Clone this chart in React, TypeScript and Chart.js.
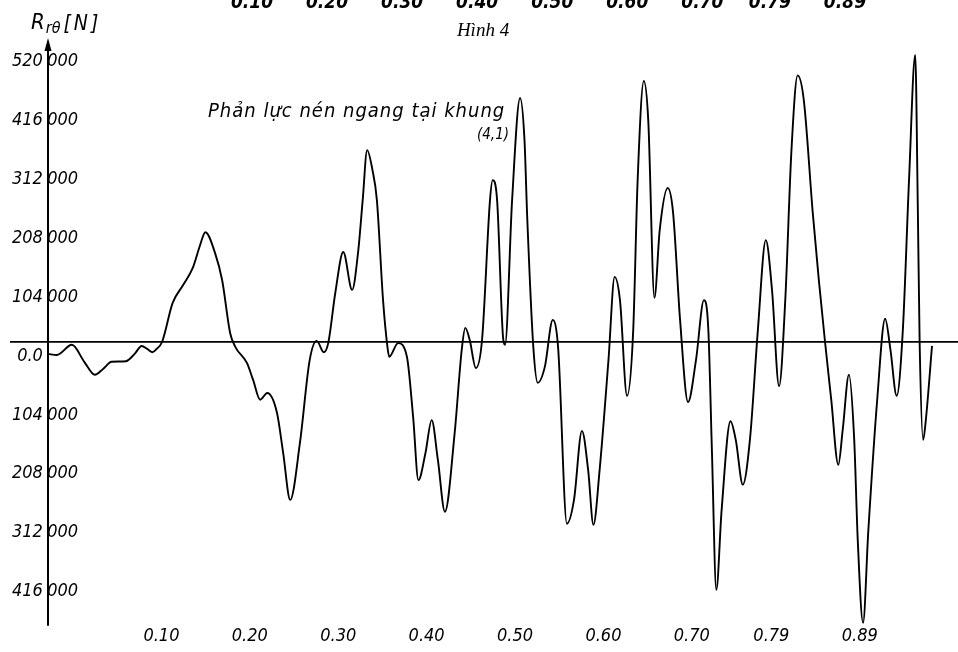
import React, { useEffect, useRef } from 'react';
import { Chart, registerables } from 'chart.js';

Chart.register(...registerables);

// time (s) along the record
const timeS: number[] = [
  0.000, 0.010, 0.027, 0.041, 0.053, 0.062, 0.072, 0.088, 0.098, 0.106,
  0.112, 0.118, 0.123, 0.129, 0.141, 0.153, 0.164, 0.172, 0.178, 0.189,
  0.197, 0.206, 0.212, 0.225, 0.232, 0.240, 0.248, 0.259, 0.266, 0.274,
  0.285, 0.296, 0.304, 0.312, 0.317, 0.325, 0.334, 0.344, 0.351, 0.356,
  0.361, 0.367, 0.372, 0.379, 0.384, 0.386, 0.396, 0.406, 0.413, 0.419,
  0.427, 0.434, 0.441, 0.449, 0.460, 0.468, 0.472, 0.477, 0.484, 0.491,
  0.500, 0.503, 0.508, 0.515, 0.517, 0.525, 0.534, 0.539, 0.542, 0.549,
  0.554, 0.562, 0.571, 0.577, 0.587, 0.595, 0.604, 0.611, 0.617, 0.624,
  0.634, 0.641, 0.647, 0.655, 0.662, 0.667, 0.674, 0.679, 0.686, 0.692,
  0.701, 0.707, 0.715, 0.724, 0.733, 0.742, 0.747, 0.751, 0.756, 0.762,
  0.772, 0.778, 0.786, 0.794, 0.803, 0.812, 0.819, 0.827, 0.834, 0.841,
  0.848, 0.855, 0.865, 0.872, 0.879, 0.886, 0.894, 0.899, 0.906, 0.912,
  0.916, 0.922, 0.928, 0.938, 0.947, 0.953, 0.960, 0.967, 0.974, 0.981,
  0.984, 0.986, 0.990, 0.993, 1.000,
];

// horizontal compressive reaction R (N)
const reactionN: number[] = [
  -21000, -23000, -5000, -35000, -58000, -48000, -35000, -34000, -21000, -7000,
  -12000, -18000, -12000, 0, 69000, 101000, 132000, 171000, 194000, 157000,
  109000, 16000, -9000, -37000, -67000, -102000, -90000, -125000, -196000, -279000,
  -178000, -32000, 2000, -18000, -2000, 87000, 159000, 92000, 162000, 251000,
  339000, 304000, 251000, 74000, -9000, -26000, -2000, -26000, -132000, -244000,
  -196000, -138000, -208000, -300000, -161000, -14000, 25000, 4000, -46000, 4000,
  251000, 286000, 251000, 4000, -5000, 251000, 431000, 357000, 224000, -9000,
  -72000, -44000, 39000, -9000, -321000, -279000, -157000, -226000, -323000, -226000,
  -32000, 115000, 74000, -95000, 21000, 286000, 461000, 392000, 78000, 198000,
  272000, 230000, 39000, -106000, -32000, 74000, 21000, -191000, -438000, -297000,
  -140000, -173000, -252000, -173000, 21000, 180000, 92000, -78000, 74000, 339000,
  471000, 427000, 230000, 109000, 0, -102000, -217000, -155000, -58000, -173000,
  -350000, -496000, -332000, -102000, 41000, -14000, -95000, 21000, 286000, 507000,
  230000, 0, -173000, -138000, -7000,
];

const xTickValues: number[] = [0.10, 0.20, 0.30, 0.40, 0.50, 0.60, 0.70, 0.79, 0.89];
const xTickLabels: string[] = ['0.10', '0.20', '0.30', '0.40', '0.50', '0.60', '0.70', '0.79', '0.89'];
const yTickValues: number[] = [520000, 416000, 312000, 208000, 104000, 0, -104000, -208000, -312000, -416000];
const yTickLeftParts: string[] = ['520', '416', '312', '208', '104', '0.0', '104', '208', '312', '416'];
const yTickRightParts: string[] = ['000', '000', '000', '000', '000', '', '000', '000', '000', '000'];
// axis labels of the previous figure, cut at the top of the page
const topTickValues: number[] = [0.10, 0.20, 0.30, 0.40, 0.50, 0.60, 0.70, 0.79, 0.89];
const topTickLabels: string[] = ['0.10', '0.20', '0.30', '0.40', '0.50', '0.60', '0.70', '0.79', '0.89'];

const figureTitle = 'Hình 4';
const noteLine1 = 'Phản lực nén ngang tại khung';
const noteLine2 = '(4,1)';
const axisSymbol = 'R';
const axisSubscript = 'rθ';
const axisUnit = '[N]';

const LABEL_FAMILY = "'DejaVu Sans Condensed', 'Liberation Sans Narrow', 'Arial Narrow', sans-serif";
const SERIF_FAMILY = "'Liberation Serif', 'DejaVu Serif', serif";

const textPlugin = {
  id: 'figureText',
  afterDraw(chart: any) {
    const ctx = chart.ctx as CanvasRenderingContext2D;
    const xs = chart.scales.x;
    const ax = xs.getPixelForValue(0);
    const top = chart.chartArea.top;
    ctx.save();
    ctx.fillStyle = '#000';
    // arrow head on the vertical axis
    ctx.beginPath();
    ctx.moveTo(ax, top - 4);
    ctx.lineTo(ax - 3.5, top + 9);
    ctx.lineTo(ax + 3.5, top + 9);
    ctx.closePath();
    ctx.fill();

    // axis quantity
    ctx.textBaseline = 'alphabetic';
    ctx.textAlign = 'left';
    ctx.font = `italic 22px ${LABEL_FAMILY}`;
    ctx.fillText(axisSymbol, 31, 29);
    let x = 31 + ctx.measureText(axisSymbol).width + 1;
    ctx.font = `italic 16px ${LABEL_FAMILY}`;
    ctx.fillText(axisSubscript, x, 33);
    x += ctx.measureText(axisSubscript).width + 3;
    ctx.font = `italic 21px ${LABEL_FAMILY}`;
    (ctx as any).letterSpacing = '3px';
    ctx.fillText(axisUnit, x, 30);
    (ctx as any).letterSpacing = '0px';

    // figure caption of the previous figure
    ctx.font = `italic 19px ${SERIF_FAMILY}`;
    ctx.textAlign = 'center';
    ctx.fillText(figureTitle, 483, 36);

    // note
    ctx.font = `italic 20px ${LABEL_FAMILY}`;
    ctx.textAlign = 'left';
    (ctx as any).letterSpacing = '1px';
    ctx.fillText(noteLine1, 208, 117);
    (ctx as any).letterSpacing = '0px';
    ctx.font = `italic 15px ${LABEL_FAMILY}`;
    ctx.fillText(noteLine2, 477, 139);
    ctx.restore();
  },
};

export default function App() {
  const canvasRef = useRef<HTMLCanvasElement | null>(null);

  useEffect(() => {
    const canvas = canvasRef.current;
    if (!canvas) return;
    const labelFont = { family: LABEL_FAMILY, size: 18, style: 'italic' as const };
    const yRange = {
      type: 'linear' as const,
      min: -500000,
      max: 530000,
      afterBuildTicks: (s: any) => {
        s.ticks = yTickValues.map((v) => ({ value: v }));
      },
    };
    const chart = new Chart(canvas, {
      type: 'line',
      data: {
        datasets: [
          {
            data: timeS.map((t, i) => ({ x: t, y: reactionN[i] })),
            borderColor: '#000',
            borderWidth: 1.9,
            pointRadius: 0,
            fill: false,
            cubicInterpolationMode: 'monotone',
            xAxisID: 'x',
            yAxisID: 'y',
          },
        ],
      },
      options: {
        animation: false,
        responsive: false,
        maintainAspectRatio: false,
        layout: { padding: { left: 10, right: 0, top: 0, bottom: 0 } },
        plugins: { legend: { display: false }, tooltip: { enabled: false }, title: { display: false } },
        scales: {
          x: {
            type: 'linear',
            position: 'bottom',
            min: -0.043,
            max: 1.0294,
            grid: { display: false, drawTicks: false },
            border: { display: false },
            afterBuildTicks: (s: any) => {
              s.ticks = xTickValues.map((v) => ({ value: v }));
            },
            afterFit: (s: any) => {
              s.height = 27;
            },
            ticks: {
              autoSkip: false,
              maxRotation: 0,
              minRotation: 0,
              labelOffset: 25,
              padding: 1,
              color: '#000',
              font: labelFont,
              callback: (v: any) => {
                const i = xTickValues.indexOf(Number(v));
                return i >= 0 ? xTickLabels[i] : '';
              },
            },
          },
          xTop: {
            type: 'linear',
            position: 'top',
            min: -0.2224,
            max: 1.0406,
            grid: { display: false, drawTicks: false },
            border: { display: false },
            afterBuildTicks: (s: any) => {
              s.ticks = topTickValues.map((v) => ({ value: v }));
            },
            afterFit: (s: any) => {
              s.height = 42;
            },
            ticks: {
              autoSkip: false,
              maxRotation: 0,
              minRotation: 0,
              padding: 28,
              color: '#000',
              font: { family: LABEL_FAMILY, size: 19, style: 'italic', weight: 'bold' },
              callback: (v: any) => {
                const i = topTickValues.indexOf(Number(v));
                return i >= 0 ? topTickLabels[i] : '';
              },
            },
          },
          y: {
            ...yRange,
            position: { x: 0 },
            grid: {
              drawTicks: false,
              color: (c: any) => (c.tick && c.tick.value === 0 ? '#000' : 'rgba(0,0,0,0)'),
              lineWidth: 1.8,
            },
            border: { display: true, color: '#000', width: 2 },
            ticks: {
              labelOffset: 14,
              color: '#000',
              font: labelFont,
              callback: (v: any) => {
                const i = yTickValues.indexOf(Number(v));
                return i >= 0 ? yTickLeftParts[i] + ' ' : '';
              },
            },
          },
          y2: {
            ...yRange,
            position: { x: 0.034 },
            grid: { display: false, drawTicks: false },
            border: { display: false },
            ticks: {
              labelOffset: 14,
              color: '#000',
              font: labelFont,
              callback: (v: any) => {
                const i = yTickValues.indexOf(Number(v));
                return i >= 0 ? yTickRightParts[i] : '';
              },
            },
          },
        },
      } as any,
      plugins: [textPlugin],
    });
    return () => chart.destroy();
  }, []);

  return (
    <div style={{ position: 'absolute', left: 0, top: 0, width: 958, height: 652, background: '#fff' }}>
      <canvas ref={canvasRef} width={958} height={652} style={{ display: 'block', width: 958, height: 652 }} />
    </div>
  );
}
